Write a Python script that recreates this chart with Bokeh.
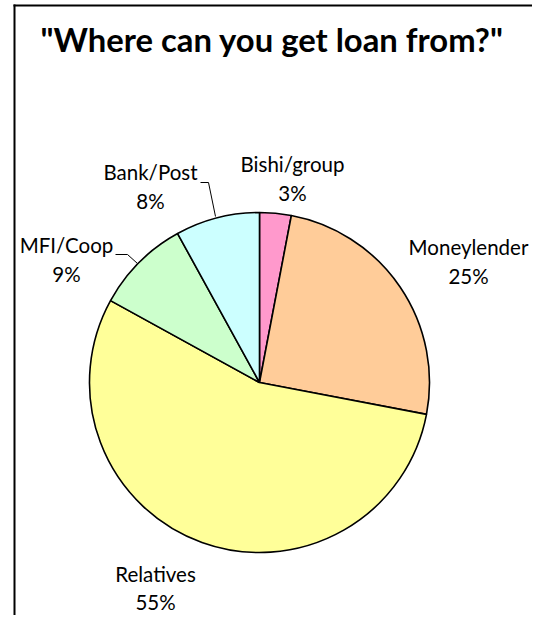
import math
from bokeh.plotting import figure
from bokeh.models import Range1d, ColumnDataSource
from bokeh.core.properties import value
from bokeh.embed import file_html
from bokeh.resources import INLINE

# ---- data ----
categories = ["Bishi/group", "Moneylender", "Relatives", "MFI/Coop", "Bank/Post"]
shares = [3, 25, 55, 9, 8]
colors = ["#FF99CC", "#FFCC99", "#FFFF99", "#CCFFCC", "#CCFFFF"]
title_text = '"Where can you get loan from?"'

W, H = 532, 615
p = figure(width=W, height=H, output_backend="svg", toolbar_location=None,
           x_range=Range1d(0, W), y_range=Range1d(0, H), min_border=0)
p.axis.visible = False
p.grid.visible = False
p.outline_line_color = None
p.background_fill_color = "white"
p.border_fill_color = "white"

def py(page_y):
    return H - page_y

def px(page_x):
    return page_x

# frame border (left and top visible), as thin filled bars
p.quad(left=[px(13), px(13)], right=[px(15), W + 10], bottom=[-10, py(6)], top=[py(4), py(4)],
       fill_color="black", line_color=None)

# pie
cx, cy, r = px(259), py(382), 170
total = sum(shares)
starts, ends = [], []
cum = 0.0
for s in shares:
    a0 = math.pi / 2 - 2 * math.pi * (cum + s) / total
    a1 = math.pi / 2 - 2 * math.pi * cum / total
    starts.append(a0)
    ends.append(a1)
    cum += s
src = ColumnDataSource(dict(start=starts, end=ends, color=colors))
p.wedge(x=cx, y=cy, radius=r, start_angle="start", end_angle="end", direction="anticlock",
        fill_color="color", line_color="black", line_width=1.6, source=src)

# labels (name line, percent line)
label_pos = {
    "Bishi/group": (292, 163, 192),
    "Moneylender": (468, 246, 275),
    "Relatives": (155, 573, 601),
    "MFI/Coop": (66, 244, 273),
    "Bank/Post": (150, 171, 200),
}
lx, ly1, ly2, names, pcts = [], [], [], [], []
for c, s in zip(categories, shares):
    x0, y0, y1 = label_pos[c]
    lx.append(px(x0)); ly1.append(py(y0)); ly2.append(py(y1))
    names.append(c); pcts.append(f"{s}%")
p.text(x=lx, y=ly1, text=names, text_font=value("Lato"), text_font_size="20.5px",
       text_align="center", text_baseline="middle", text_color="#000000")
p.text(x=lx, y=ly2, text=pcts, text_font=value("Lato"), text_font_size="20.5px",
       text_align="center", text_baseline="middle", text_color="#000000")

# leader lines
p.line([px(200), px(208), px(215)], [py(182), py(182), py(216)], line_color="black", line_width=1)
p.line([px(115), px(127), px(137)], [py(254), py(254), py(263)], line_color="black", line_width=1)

# title
p.text(x=[px(40)], y=[py(39)], text=[title_text], text_font=value("Lato"), text_font_size="32.8px",
       text_font_style="bold", text_align="left", text_baseline="middle", text_color="#000000")

open("out.html", "w").write(file_html(p, INLINE))
